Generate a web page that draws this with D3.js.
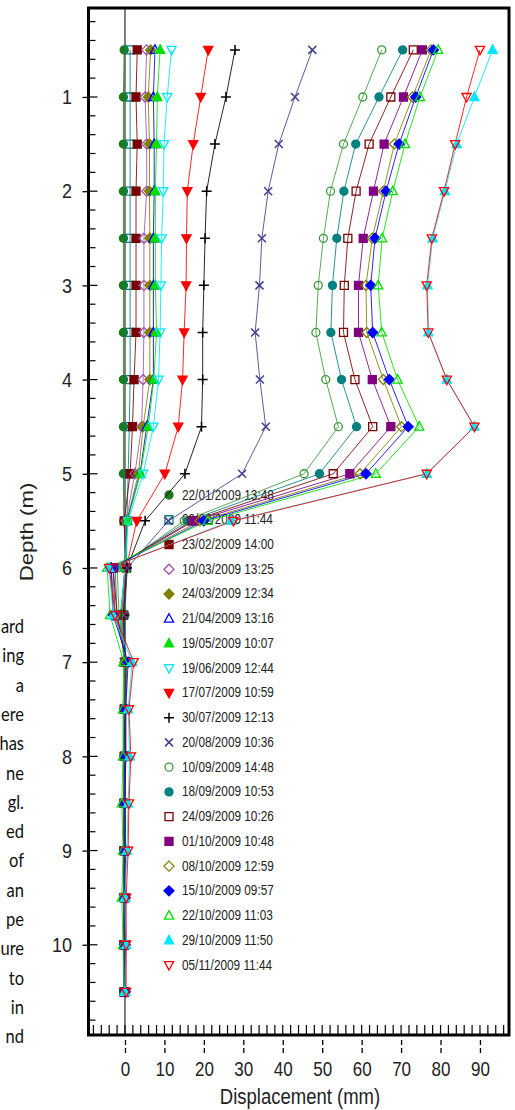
<!DOCTYPE html>
<html>
<head>
<meta charset="utf-8">
<script src="https://cdn.jsdelivr.net/npm/d3@7"></script>
<style>
  html, body { margin: 0; padding: 0; background: #fff; }
  svg { display: block; }
</style>
</head>
<body>
<svg id="chart" width="515" height="1110"></svg>
<script>
// ---------------- DATA ----------------
const depths = [0.5, 1.0, 1.5, 2.0, 2.5, 3.0, 3.5, 4.0, 4.5, 5.0, 5.5, 6.0, 6.5, 7.0, 7.5, 8.0, 8.5, 9.0, 9.5, 10.0, 10.5];

const dates = [
  "22/01/2009 13:48", "09/02/2009 11:44", "23/02/2009 14:00", "10/03/2009 13:25",
  "24/03/2009 12:34", "21/04/2009 13:16", "19/05/2009 10:07", "19/06/2009 12:44",
  "17/07/2009 10:59", "30/07/2009 12:13", "20/08/2009 10:36", "10/09/2009 14:48",
  "18/09/2009 10:53", "24/09/2009 10:26", "01/10/2009 10:48", "08/10/2009 12:59",
  "15/10/2009 09:57", "22/10/2009 11:03", "29/10/2009 11:50", "05/11/2009 11:44"
];

// displacement (mm) per survey, one value per depth
const s01 = [-0.2,-0.4,-0.4,-0.4,-0.4,-0.4,-0.4,-0.4,-0.4,-0.4,-0.3,0.5,0.0,0.0,0.0,0.0,-0.1,0.0,0.0,0.0,0.0];
const s02 = [1.3,1.3,1.3,1.3,1.3,1.3,1.3,1.3,1.1,0.8,0.5,0.4,-0.3,0.0,0.0,0.0,0.0,0.0,0.0,0.0,0.0];
const s03 = [3.1,2.8,3.1,2.8,2.8,2.8,2.8,2.3,1.9,1.3,-0.2,0.3,-0.5,0.0,-0.2,-0.2,-0.2,-0.2,-0.2,-0.2,-0.2];
const s04 = [5.5,5.1,5.5,5.5,4.8,4.8,4.8,4.6,4.2,2.5,0.3,0.0,-0.8,0.0,0.0,0.0,0.0,0.0,0.0,0.0,0.0];
const s05 = [6.5,5.9,6.2,6.2,6.3,6.3,6.3,6.3,4.6,3.4,0.5,0.0,-0.8,0.0,0.0,0.0,0.0,0.0,0.0,0.0,0.0];
const s06 = [7.6,7.2,7.4,7.4,7.2,7.2,7.2,7.2,5.5,3.8,0.5,0.0,-1.0,-0.2,0.0,0.0,0.0,0.0,0.0,0.0,0.0];
const s07 = [8.9,8.2,8.0,7.7,7.7,7.7,8.0,7.3,5.9,3.9,0.6,0.0,-1.2,-0.3,-0.2,-0.2,0.0,0.0,0.0,0.0,0.0];
const s08 = [11.8,10.7,9.9,9.7,9.3,9.1,8.9,8.5,7.2,4.6,0.8,0.0,-1.0,0.0,0.0,0.0,0.0,0.0,0.0,0.0,0.0];
const s09 = [21.1,19.2,17.3,15.8,15.6,15.5,15.0,14.6,13.5,10.1,3.0,0.3,-0.5,0.0,0.0,0.0,0.0,0.0,0.0,0.0,0.0];
const s10 = [27.9,25.6,22.8,20.7,20.3,20.0,19.7,19.7,19.4,15.2,5.1,0.5,-0.3,0.0,0.0,0.0,0.0,0.0,0.0,0.0,0.0];
const s11 = [47.5,43.1,39.0,36.3,34.7,34.1,33.0,34.2,35.7,29.7,11.0,0.6,-0.3,0.0,0.0,0.0,0.0,0.0,0.0,0.0,0.0];
const s12 = [65.1,60.3,55.4,52.1,50.3,49.0,48.4,50.9,54.1,45.4,15.0,-2.0,-1.5,0.0,-0.3,-0.3,-0.3,-0.3,-0.3,-0.3,-0.3];
const s13 = [70.4,64.4,58.5,55.5,53.7,52.6,52.2,54.9,58.7,49.3,16.0,-2.5,-2.0,0.3,-0.2,-0.3,-0.3,-0.3,-0.3,-0.3,-0.3];
const s14 = [73.1,67.4,61.9,58.6,56.5,55.6,55.4,58.3,62.8,52.8,17.0,-3.0,-2.0,0.3,0.0,0.0,-0.2,-0.2,-0.2,-0.2,-0.2];
const s15 = [75.4,70.6,65.7,63.0,60.4,59.2,59.2,62.7,67.4,57.0,17.5,-3.0,-2.5,0.5,0.0,0.0,-0.2,-0.2,-0.2,-0.2,-0.2];
const s16 = [77.6,72.9,68.3,65.5,62.7,61.1,61.3,65.5,70.1,59.6,19.0,-3.5,-2.5,0.5,0.2,0.2,0.0,0.0,0.0,0.0,0.0];
const s17 = [78.2,73.7,69.5,66.2,63.4,62.3,62.8,67.0,71.8,61.1,20.0,-3.5,-3.0,0.8,0.2,0.2,0.0,0.0,0.0,0.0,0.0];
const s18 = [79.4,74.8,71.0,67.9,65.2,64.2,65.1,69.1,74.6,63.6,21.0,-4.5,-3.8,-0.3,-0.5,-0.5,-0.8,-0.5,-0.8,-0.5,-0.2];
const s19 = [93.2,88.6,84.1,81.1,78.0,76.7,76.9,81.6,88.6,76.5,27.0,-4.0,-3.0,1.8,0.8,1.2,0.8,0.5,0.0,0.3,0.0];
const s20 = [90.0,86.6,83.7,80.9,77.8,76.5,76.9,81.6,88.6,76.5,27.5,-4.0,-2.5,2.2,1.0,1.5,1.0,0.8,0.3,0.3,0.3];

const seriesValues = [s01,s02,s03,s04,s05,s06,s07,s08,s09,s10,s11,s12,s13,s14,s15,s16,s17,s18,s19,s20];

const xTickValues = [0, 10, 20, 30, 40, 50, 60, 70, 80, 90];
const yTickValues = [1, 2, 3, 4, 5, 6, 7, 8, 9, 10];

// fragment of the document text at the left edge
const sideText = ["ard","ing","a","ere","has","ne","gl.","ed","of","an","pe","ure","to","in","nd"];

// ---------------- STYLE ----------------
const colors = ["#1b7a1b","#008080","#7a0000","#a050b0","#808000","#0000ff","#00e000","#00e8ff",
                "#ff0000","#000000","#404090","#3a9a3a","#008080","#7a0000","#800080","#808000",
                "#0000ff","#00e000","#00e8ff","#ff0000"];
const shapes = ["circle","square","square","diamond","diamond","triUp","triUp","triDown","triDown",
                "plus","cross","circle","circle","square","square","diamond","diamond","triUp","triUp","triDown"];
const filled = [true,false,true,false,true,false,true,false,true,false,false,false,true,false,true,false,true,false,true,false];

// ---------------- LAYOUT ----------------
const svg = d3.select("#chart");
const L = 88.5, R = 509, T = 8, B = 1035;

const x = d3.scaleLinear().domain([-9.25, 97.36]).range([L, R]);
const y = d3.scaleLinear().domain([0.0554, 10.958]).range([T, B]);

const font = "'Liberation Sans', Arial, Helvetica, sans-serif";
const sy = 1.17; // vertical stretch of the source image text

function markerPath(shape) {
  const p = d3.path();
  switch (shape) {
    case "circle": p.arc(0, 0, 4, 0, 2 * Math.PI); break;
    case "square": p.rect(-4, -4, 8, 8); break;
    case "diamond": p.moveTo(0, -5); p.lineTo(5, 0); p.lineTo(0, 5); p.lineTo(-5, 0); p.closePath(); break;
    case "triUp": p.moveTo(0, -5); p.lineTo(4.6, 3.5); p.lineTo(-4.6, 3.5); p.closePath(); break;
    case "triDown": p.moveTo(0, 5); p.lineTo(4.6, -3.5); p.lineTo(-4.6, -3.5); p.closePath(); break;
    case "plus": p.moveTo(-5, 0); p.lineTo(5, 0); p.moveTo(0, -5); p.lineTo(0, 5); break;
    case "cross": p.moveTo(-4, -4); p.lineTo(4, 4); p.moveTo(-4, 4); p.lineTo(4, -4); break;
  }
  return p.toString();
}
function styleMarker(sel, i) {
  const isLine = shapes[i] === "plus" || shapes[i] === "cross";
  sel.attr("d", markerPath(shapes[i]))
     .attr("fill", filled[i] && !isLine ? colors[i] : "none")
     .attr("stroke", colors[i])
     .attr("stroke-width", isLine ? 1.5 : 1.3);
}

// ---------------- SIDE TEXT ----------------
svg.append("g").selectAll("text").data(sideText).join("text")
  .attr("transform", (d, i) => `translate(24,${633 + i * 29.3}) scale(1,${sy})`)
  .attr("text-anchor", "end")
  .attr("font-family", "Lato, 'Open Sans', sans-serif")
  .attr("font-size", 16.5)
  .attr("fill", "#111")
  .text(d => d);

// ---------------- LEGEND (behind data, no box) ----------------
const legend = svg.append("g");
const legY0 = 495, legStep = 24.74;
dates.forEach((d, i) => {
  legend.append("path")
    .attr("transform", `translate(169,${legY0 + i * legStep})`)
    .call(styleMarker, i);
  legend.append("text")
    .attr("transform", `translate(182,${legY0 + i * legStep + 4.5}) scale(1,${sy})`)
    .attr("font-family", font)
    .attr("font-size", 11.8)
    .attr("fill", "#222")
    .text(d);
});

// ---------------- ZERO LINE ----------------
svg.append("line")
  .attr("x1", x(0)).attr("x2", x(0)).attr("y1", T).attr("y2", B)
  .attr("stroke", "#000").attr("stroke-width", 1);

// ---------------- DATA ----------------
const lineGen = d3.line().x(d => x(d[0])).y(d => y(d[1]));
const gData = svg.append("g");
seriesValues.forEach((vals, i) => {
  const pts = vals.map((v, k) => [v, depths[k]]);
  gData.append("path")
    .attr("d", lineGen(pts))
    .attr("fill", "none")
    .attr("stroke", colors[i])
    .attr("stroke-width", 1)
    .attr("stroke-opacity", 0.85);
});
seriesValues.forEach((vals, i) => {
  const pts = vals.map((v, k) => [v, depths[k]]);
  gData.append("g").selectAll("path").data(pts).join("path")
    .attr("transform", d => `translate(${x(d[0])},${y(d[1])})`)
    .call(styleMarker, i);
});

// ---------------- INNER TICKS ----------------
const minorY = d3.range(1, 55).map(k => k * 0.2).filter(v => Math.abs(v - Math.round(v)) > 1e-6);
svg.append("g").selectAll("line").data(minorY).join("line")
  .attr("x1", L).attr("x2", L + 7).attr("y1", d => y(d)).attr("y2", d => y(d))
  .attr("stroke", "#000").attr("stroke-width", 1.2);
svg.append("g").selectAll("line").data(yTickValues).join("line")
  .attr("x1", L).attr("x2", L + 9).attr("y1", d => y(d)).attr("y2", d => y(d))
  .attr("stroke", "#000").attr("stroke-width", 1.2);
const minorX = d3.range(-8, 97, 2);
svg.append("g").selectAll("line").data(minorX).join("line")
  .attr("x1", d => x(d)).attr("x2", d => x(d)).attr("y1", B - 10).attr("y2", B)
  .attr("stroke", "#000").attr("stroke-width", 1.2);

// ---------------- FRAME ----------------
svg.append("rect")
  .attr("x", L).attr("y", T).attr("width", R - L).attr("height", B - T)
  .attr("fill", "none").attr("stroke", "#000").attr("stroke-width", 3);

// ---------------- AXES ----------------
const xAxis = svg.append("g").attr("transform", `translate(0,${B + 5})`)
  .call(d3.axisBottom(x).tickValues(xTickValues).tickSize(13).tickPadding(8.5).tickFormat(d3.format("d")));
xAxis.select(".domain").remove();
xAxis.selectAll(".tick line").attr("stroke", "#000").attr("stroke-width", 1.3).attr("stroke-dasharray", "5,3");
xAxis.selectAll(".tick text")
  .attr("font-family", font).attr("font-size", 17).attr("fill", "#222")
  .attr("transform", `scale(1,${sy})`).attr("y", 19);

const yAxis = svg.append("g").attr("transform", `translate(${L},0)`)
  .call(d3.axisLeft(y).tickValues(yTickValues).tickSize(6).tickPadding(10.5).tickFormat(d3.format("d")));
yAxis.select(".domain").remove();
yAxis.selectAll(".tick line").attr("stroke", "#000").attr("stroke-width", 1.3);
yAxis.selectAll(".tick text")
  .attr("font-family", font).attr("font-size", 18).attr("fill", "#222")
  .attr("transform", `scale(1,${sy})`);

// axis titles
svg.append("text")
  .attr("transform", `translate(300,1104) scale(1,${sy})`)
  .attr("text-anchor", "middle")
  .attr("font-family", font).attr("font-size", 18.5).attr("fill", "#222")
  .text("Displacement (mm)");
svg.append("text")
  .attr("transform", `translate(33,532) scale(1,${sy}) rotate(-90)`)
  .attr("text-anchor", "middle")
  .attr("font-family", font).attr("font-size", 19).attr("fill", "#222")
  .text("Depth (m)");
</script>
</body>
</html>
